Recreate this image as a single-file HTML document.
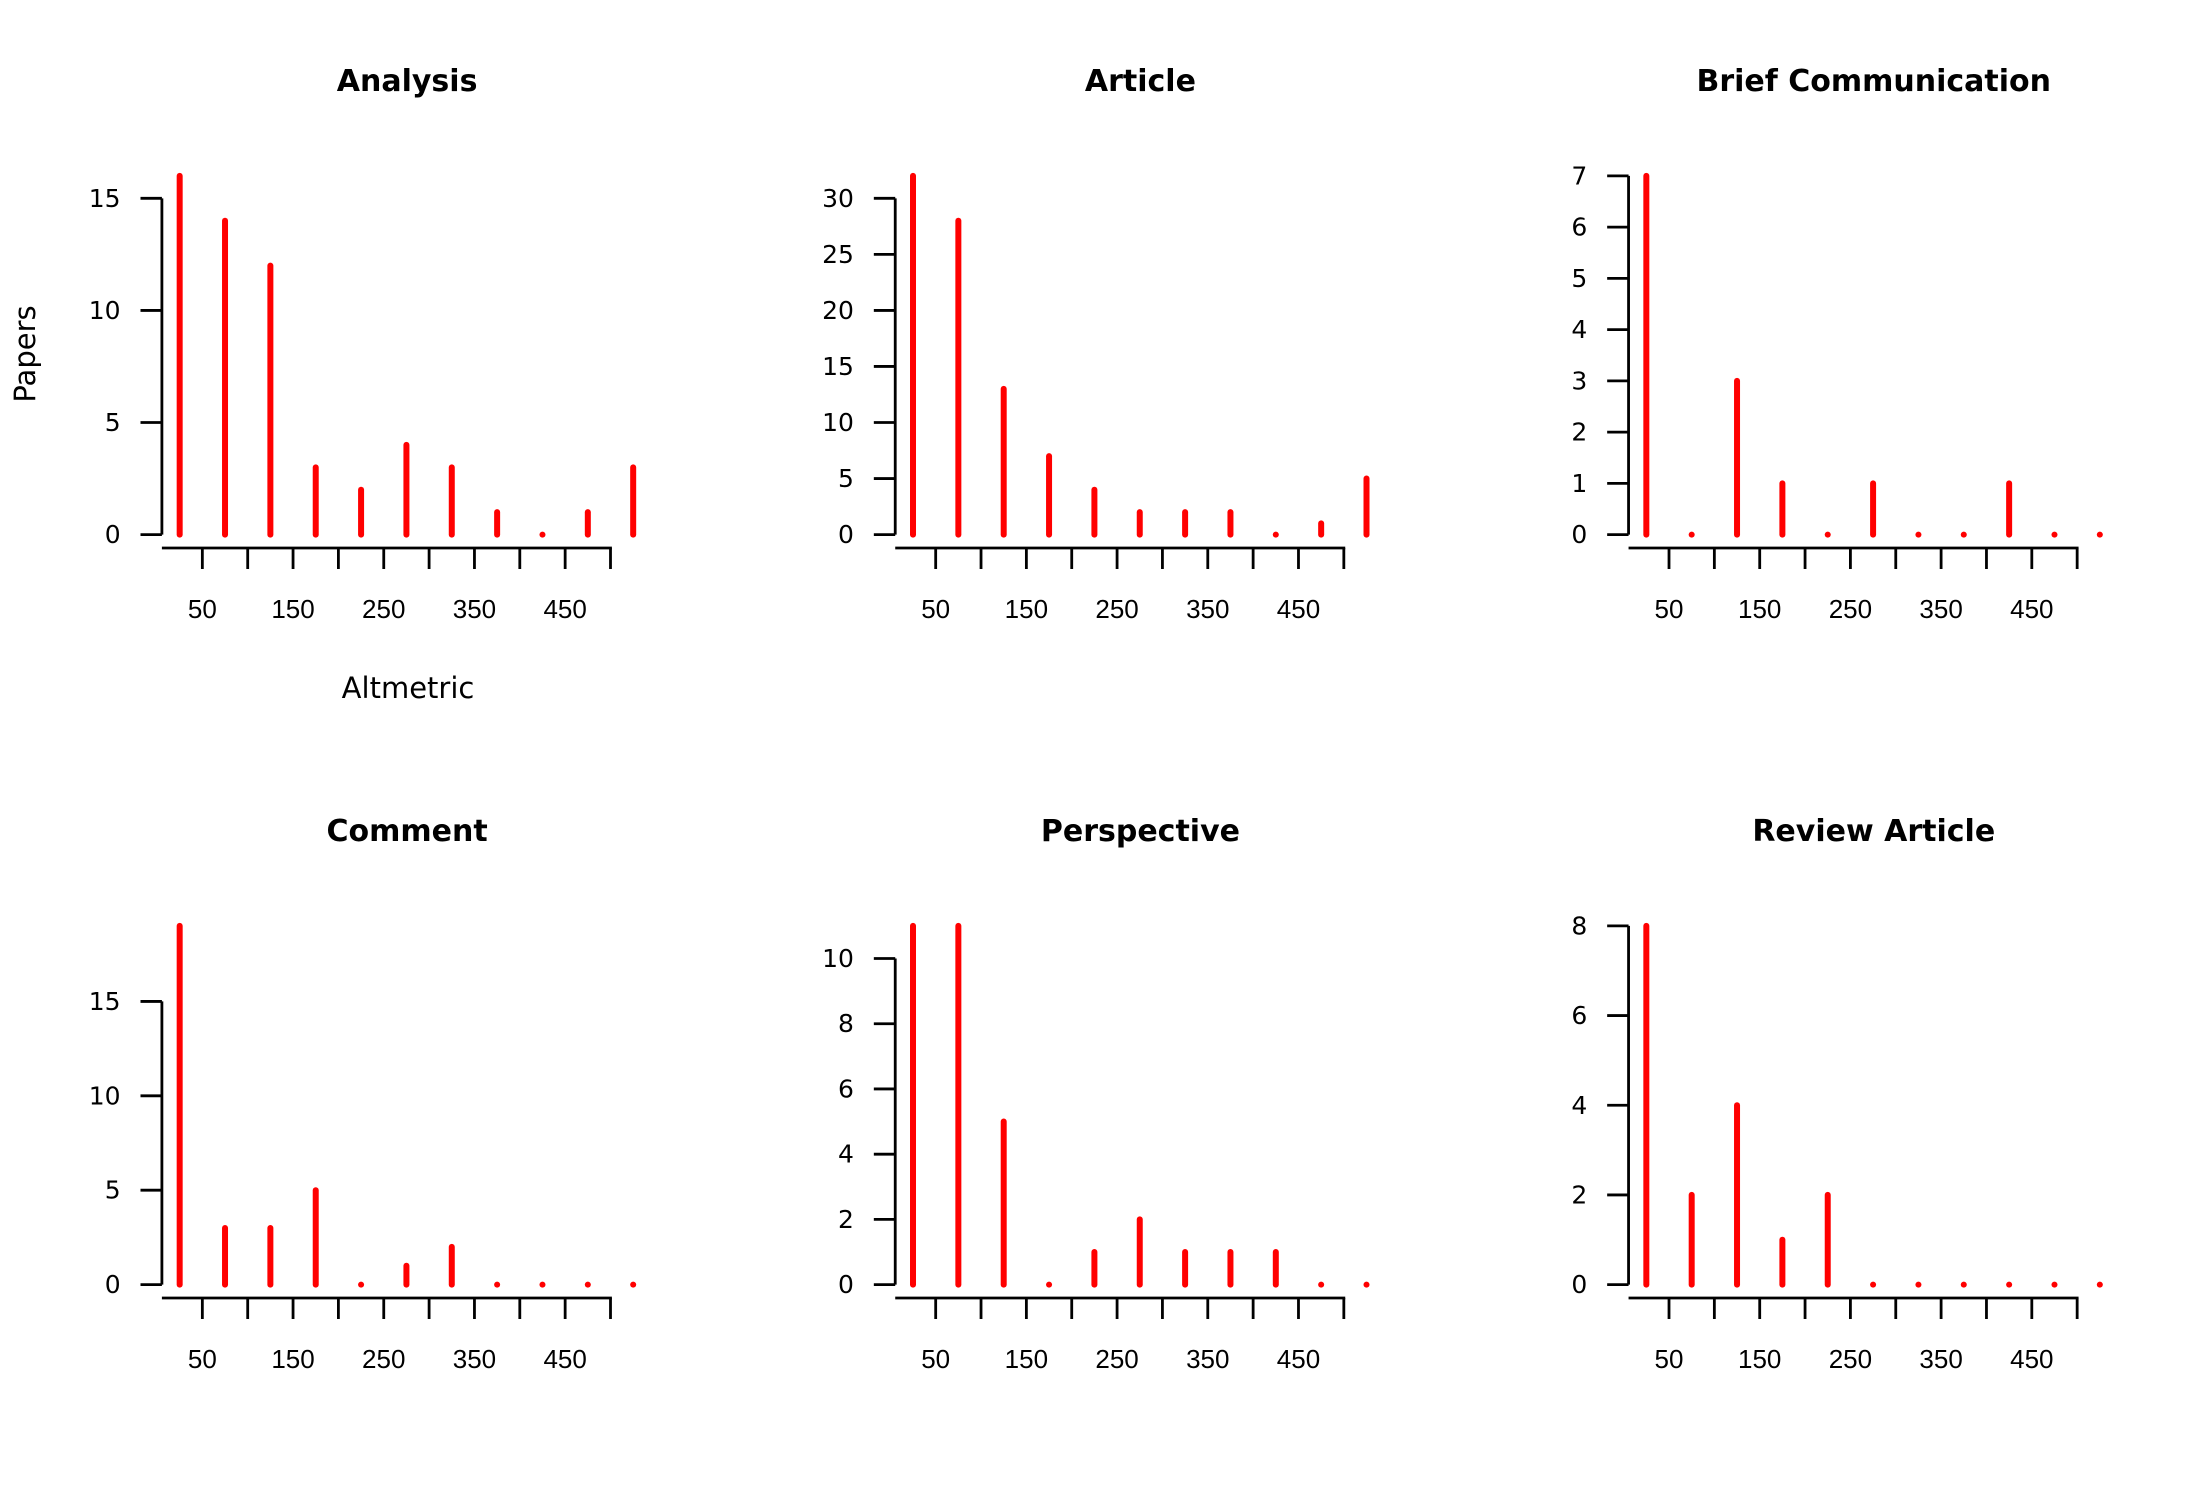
<!DOCTYPE html>
<html><head><meta charset="utf-8">
<style>
html,body{margin:0;padding:0;background:#fff;}
svg{display:block;}
.t{font-family:"DejaVu Sans",Verdana,sans-serif;font-weight:bold;font-size:30px;text-anchor:middle;}
.yl{font-family:"DejaVu Sans",Verdana,sans-serif;font-size:25px;text-anchor:end;dominant-baseline:central;}
.xl{font-family:"Liberation Sans",Arial,sans-serif;font-size:26px;text-anchor:middle;dominant-baseline:central;}
.al{font-family:"DejaVu Sans",Verdana,sans-serif;font-size:29px;text-anchor:middle;dominant-baseline:central;}
</style></head>
<body>
<svg id="chart" width="2200" height="1500" viewBox="0 0 2200 1500" xmlns="http://www.w3.org/2000/svg">
<text class="al" x="408" y="688">Altmetric</text>
<text class="al" x="25" y="354" transform="rotate(-90 25 354)">Papers</text>
</svg>
<script>
const panelTitles = ["Analysis","Article","Brief Communication","Comment","Perspective","Review Article"];
const binCenters = [25,75,125,175,225,275,325,375,425,475,525];
const analysisCounts = [16,14,12,3,2,4,3,1,0,1,3];
const articleCounts = [32,28,13,7,4,2,2,2,0,1,5];
const briefCounts = [7,0,3,1,0,1,0,0,1,0,0];
const commentCounts = [19,3,3,5,0,1,2,0,0,0,0];
const perspectiveCounts = [11,11,5,0,1,2,1,1,1,0,0];
const reviewCounts = [8,2,4,1,2,0,0,0,0,0,0];
const analysisTicks = [0,5,10,15];
const articleTicks = [0,5,10,15,20,25,30];
const briefTicks = [0,1,2,3,4,5,6,7];
const commentTicks = [0,5,10,15];
const perspectiveTicks = [0,2,4,6,8,10];
const reviewTicks = [0,2,4,6,8];
const xTickValues = [50,100,150,200,250,300,350,400,450,500];
const xTickLabels = ["50","","150","","250","","350","","450",""];

const seriesList = [analysisCounts,articleCounts,briefCounts,commentCounts,perspectiveCounts,reviewCounts];
const tickList = [analysisTicks,articleTicks,briefTicks,commentTicks,perspectiveTicks,reviewTicks];
const NS = "http://www.w3.org/2000/svg";
const svg = document.getElementById('chart');
function mk(tag, attrs, parent){
  const e = document.createElementNS(NS, tag);
  for (const k in attrs) e.setAttribute(k, attrs[k]);
  parent.appendChild(e); return e;
}
for (let p = 0; p < 6; p++) {
  const ox = (p % 3) * 733.33 - 1.4, oy = Math.floor(p / 3) * 750 - 1;
  const vals = seriesList[p], ticks = tickList[p];
  const ymax = Math.max(...vals);
  const y0 = oy + 535.6, span = 358.7;
  const yS = v => y0 - v / ymax * span;
  const xS = v => ox + 158.4 + v * 0.907;
  const g = mk('g', {}, svg);
  
  
  const t = mk('text', {class: 't', x: ox + 408.5, y: oy + 92}, g);
  t.textContent = panelTitles[p];
  
  
  const ya = mk('line', {x1: ox + 163.3, x2: ox + 163.3, y1: yS(ticks[0]), y2: yS(ticks[ticks.length - 1]), stroke: '#000', 'stroke-width': 2.8}, g);
  
  
  ticks.forEach(v => {
    const tk = mk('line', {x1: ox + 141.9, x2: ox + 163.3, y1: yS(v), y2: yS(v), stroke: '#000', 'stroke-width': 2.8}, g);
    
    
    const tl = mk('text', {class: 'yl', x: ox + 122, y: yS(v)}, g);
    tl.textContent = v;
    
    
  });
  const xa = mk('line', {x1: ox + 163.3, x2: xS(500) + 1.4, y1: oy + 549, y2: oy + 549, stroke: '#000', 'stroke-width': 2.8}, g);
  
  
  xTickValues.forEach((v, i) => {
    const tk = mk('line', {x1: xS(v), x2: xS(v), y1: oy + 549, y2: oy + 570, stroke: '#000', 'stroke-width': 2.8}, g);
    
    
    if (xTickLabels[i]) {
      const tl = mk('text', {class: 'xl', x: xS(v), y: oy + 610}, g);
      tl.textContent = xTickLabels[i];
      
      
    }
  });
  vals.forEach((v, i) => {
    const b = mk('line', {x1: xS(binCenters[i]), x2: xS(binCenters[i]), y1: yS(0), y2: yS(v), stroke: '#ff0000', 'stroke-width': 6, 'stroke-linecap': 'round'}, g);
    
    
  });
}
</script>
</body></html>
